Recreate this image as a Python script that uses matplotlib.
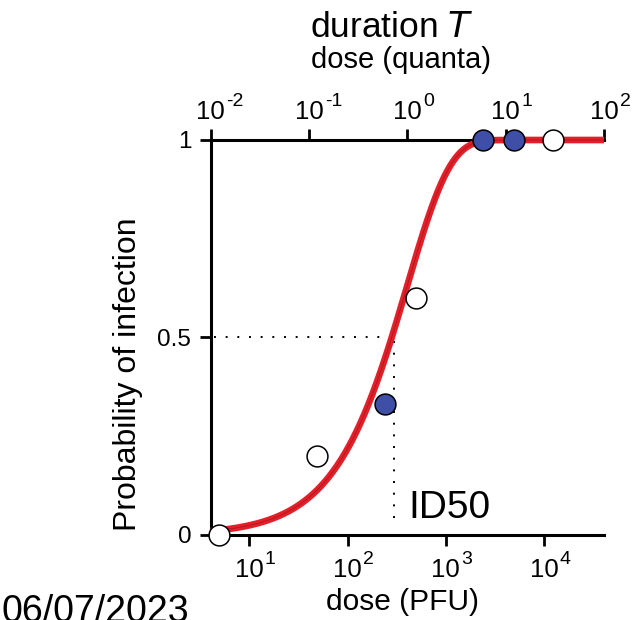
import numpy as np
import matplotlib
matplotlib.use("Agg")
import matplotlib.pyplot as plt
from matplotlib.ticker import NullLocator, FixedLocator

plt.rcParams['font.family'] = ['Liberation Sans', 'DejaVu Sans']

# data
open_dose = [4.96, 49.3, 497, 12400]
open_prob = [0.0, 0.20, 0.60, 1.0]
filled_dose = [241, 2400, 4970]
filled_prob = [0.331, 1.0, 1.0]

pfu_per_quantum = 406      # PFU in one quantum (links both x axes)
id50 = 300                 # dotted ID50 marker, PFU
bottom_ticks = [10, 100, 1000, 10000]
top_ticks = [0.01, 0.1, 1, 10, 100]

# fitted curve: exponential dose-response, P = 1 - exp(-quanta)
dose = np.logspace(np.log10(4.06), np.log10(40600), 400)
prob = 1 - np.exp(-dose / pfu_per_quantum)

fig = plt.figure(figsize=(6.36, 6.2), dpi=100)
ax = fig.add_axes([0.3313, 0.1371, 0.6184, 0.6371])

ax.plot(dose, prob, color='#e3202a', lw=4.8, solid_capstyle='butt', zorder=3, clip_on=False)
ax.plot(dose, prob, color='#a3141b', lw=0.5, zorder=3, clip_on=False)

ax.plot([4.4, id50], [0.5, 0.5], ls=(0, (1, 5)), color='k', lw=1.4)
ax.plot([id50, id50], [0.042, 0.5], ls=(0, (1, 5)), color='k', lw=1.4)

ax.plot(open_dose, open_prob, 'o', ms=15, mfc='white', mec='k', mew=1.1, zorder=4, clip_on=False)
ax.plot(filled_dose, filled_prob, 'o', ms=15, mfc='#3f4ea6', mec='k', mew=1.1, zorder=4, clip_on=False)

ax.text(416, 0.042, 'ID50', fontsize=28, ha='left', va='baseline')

ax.set_xscale('log')
ax.set_xlim(4.06, 40600)
ax.set_ylim(0, 1)
ax.xaxis.set_major_locator(FixedLocator(bottom_ticks))
ax.xaxis.set_minor_locator(NullLocator())
ax.set_yticks([0, 0.5, 1])
ax.set_yticklabels(['0', '0.5', '1'])

for s in ['top', 'right']:
    ax.spines[s].set_visible(False)
for s in ['left', 'bottom']:
    ax.spines[s].set_linewidth(2.2)
ax.tick_params(width=2, length=8, labelsize=17.5, pad=6)
ax.tick_params(axis='x', labelbottom=False)

sec = ax.secondary_xaxis('top', functions=(lambda x: x / pfu_per_quantum,
                                           lambda q: q * pfu_per_quantum))
sec.xaxis.set_major_locator(FixedLocator(top_ticks))
sec.xaxis.set_minor_locator(NullLocator())
sec.spines['top'].set_linewidth(2.2)
sec.tick_params(width=2, length=8, labeltop=False)


# "10" with a raised exponent, like the original labels
def pow_label(x, y, e, dy):
    ax.annotate('10', xy=(x, y), xycoords=('data', 'axes fraction'),
                xytext=(0, dy), textcoords='offset points',
                ha='center', va='baseline', fontsize=18.5, annotation_clip=False)
    ax.annotate(str(e), xy=(x, y), xycoords=('data', 'axes fraction'),
                xytext=(11.3, dy + 9.3), textcoords='offset points',
                ha='left', va='baseline', fontsize=14, annotation_clip=False)


for t in bottom_ticks:
    pow_label(t, 0, int(round(np.log10(t))), -30.5)
for q in top_ticks:
    pow_label(q * pfu_per_quantum, 1, int(round(np.log10(q))), 15)

fig.text(0.201, 0.397, 'Probability of infection', fontsize=23, rotation=90,
         ha='center', va='center')
fig.text(0.633, 0.0161, 'dose (PFU)', fontsize=21.5, ha='center', va='baseline')
fig.text(0.630, 0.8903, 'dose (quanta)', fontsize=21, ha='center', va='baseline')
fig.text(0.616, 0.940, 'duration $\\mathit{T}$', fontsize=25.5, ha='center', va='baseline')
fig.text(0.003, -0.004, '06/07/2023', fontsize=27, ha='left', va='baseline')

fig.savefig('out.png', dpi=100)
